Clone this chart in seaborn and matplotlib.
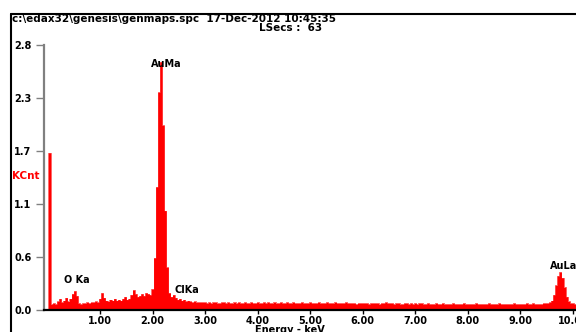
import numpy as np
import pandas as pd
import matplotlib
matplotlib.use("Agg")
import matplotlib.pyplot as plt
import seaborn as sns
from matplotlib.lines import Line2D

# spectrum, 0.04 keV per channel, counts in KCnt
channel_kev = 0.04
kcnt = [
    0.00, 1.66, 0.06, 0.07, 0.06, 0.09, 0.12, 0.08, 0.10, 0.13,
    0.09, 0.12, 0.17, 0.20, 0.15, 0.07, 0.06, 0.07, 0.07, 0.08,
    0.07, 0.08, 0.08, 0.09, 0.08, 0.12, 0.18, 0.13, 0.10, 0.09,
    0.11, 0.10, 0.12, 0.10, 0.11, 0.10, 0.12, 0.14, 0.11, 0.12,
    0.16, 0.21, 0.17, 0.14, 0.15, 0.17, 0.15, 0.18, 0.17, 0.16,
    0.22, 0.55, 1.30, 2.30, 2.62, 1.95, 1.05, 0.45, 0.18, 0.14,
    0.16, 0.13, 0.11, 0.12, 0.10, 0.11, 0.09, 0.10, 0.09, 0.08,
    0.09, 0.08, 0.08, 0.08, 0.08, 0.08, 0.07, 0.08, 0.07, 0.08,
    0.08, 0.07, 0.07, 0.08, 0.08, 0.07, 0.08, 0.07, 0.07, 0.08,
    0.07, 0.08, 0.07, 0.07, 0.08, 0.07, 0.07, 0.08, 0.07, 0.07,
    0.08, 0.07, 0.07, 0.08, 0.07, 0.08, 0.07, 0.07, 0.08, 0.07,
    0.07, 0.08, 0.07, 0.07, 0.08, 0.07, 0.07, 0.08, 0.07, 0.07,
    0.07, 0.08, 0.07, 0.07, 0.07, 0.08, 0.07, 0.07, 0.07, 0.08,
    0.07, 0.07, 0.07, 0.08, 0.07, 0.07, 0.07, 0.08, 0.07, 0.07,
    0.07, 0.07, 0.08, 0.07, 0.07, 0.07, 0.07, 0.06, 0.07, 0.07,
    0.07, 0.07, 0.07, 0.06, 0.07, 0.07, 0.07, 0.07, 0.06, 0.07,
    0.07, 0.08, 0.07, 0.07, 0.07, 0.06, 0.07, 0.07, 0.06, 0.06,
    0.07, 0.07, 0.06, 0.07, 0.06, 0.07, 0.06, 0.07, 0.07, 0.06,
    0.06, 0.07, 0.06, 0.06, 0.06, 0.07, 0.06, 0.06, 0.07, 0.06,
    0.06, 0.06, 0.06, 0.07, 0.06, 0.06, 0.06, 0.06, 0.07, 0.06,
    0.06, 0.06, 0.06, 0.06, 0.07, 0.06, 0.06, 0.06, 0.06, 0.06,
    0.07, 0.06, 0.06, 0.06, 0.06, 0.07, 0.06, 0.06, 0.06, 0.06,
    0.06, 0.06, 0.07, 0.06, 0.06, 0.06, 0.06, 0.06, 0.07, 0.06,
    0.06, 0.07, 0.06, 0.06, 0.06, 0.06, 0.07, 0.07, 0.07, 0.08,
    0.10, 0.16, 0.26, 0.36, 0.40, 0.34, 0.24, 0.14, 0.09, 0.07,
    0.07, 0.06, 0.07, 0.07, 0.06, 0.07, 0.06, 0.07, 0.07, 0.06,
    0.07, 0.06, 0.07,
]

ytick_vals = [0.0, 0.56, 1.12, 1.68, 2.24, 2.8]
ytick_labels = ["0.0", "0.6", "1.1", "1.7", "2.3", "2.8"]
xtick_vals = [1, 2, 3, 4, 5, 6, 7, 8, 9, 10]
xtick_labels = ["1.00", "2.00", "3.00", "4.00", "5.00", "6.00", "7.00", "8.00", "9.00", "10.00"]

peak_names = ["AuMa", "O Ka", "ClKa", "AuLa"]
peak_kev = [2.26, 0.55, 2.66, 9.83]
peak_lab_y = [2.60, 0.32, 0.21, 0.47]

spec = pd.DataFrame({"keV": np.arange(len(kcnt)) * channel_kev, "KCnt": kcnt})

sns.set_theme(style="white")
plt.rcParams["font.family"] = ["DejaVu Sans"]
plt.rcParams["font.weight"] = "bold"
plt.rcParams["text.color"] = "black"
plt.rcParams["xtick.labelcolor"] = "black"
plt.rcParams["ytick.labelcolor"] = "black"

fig = plt.figure(figsize=(5.76, 3.32), dpi=100)
ax = fig.add_axes([44 / 576, 22 / 332, 0.964, 265 / 332])

ax.fill_between(spec["keV"], spec["KCnt"], step="mid", color="#ff0000", lw=0)
sns.lineplot(data=spec, x="keV", y="KCnt", drawstyle="steps-mid", color="#ff0000", lw=0.4, ax=ax)

ax.set_xlim(-0.065, 10.5)
ax.set_ylim(0, 2.8)
ax.set_xlabel("")
ax.set_ylabel("")

for s in ["top", "right"]:
    ax.spines[s].set_visible(False)
ax.spines["left"].set_color("#808080")
ax.spines["left"].set_linewidth(1.6)
ax.spines["bottom"].set_color("black")
ax.spines["bottom"].set_linewidth(1.6)

ax.set_yticks(ytick_vals)
ax.set_yticklabels(ytick_labels, fontsize=7, fontweight="bold", color="black")
ax.set_xticks(xtick_vals)
ax.set_xticklabels(xtick_labels, fontsize=7, fontweight="bold", color="black")
ax.tick_params(axis="y", direction="out", length=6, width=1, color="#808080", pad=3, left=True)
ax.tick_params(axis="x", direction="out", length=3, width=1, color="black", pad=1.5, bottom=True)

for name, xk, yk in zip(peak_names, peak_kev, peak_lab_y):
    ax.text(xk, yk, name, fontsize=7, fontweight="bold", color="black", ha="center", va="center", clip_on=False)

fig.text(12 / 576, 1 - 19 / 332, "c:\\edax32\\genesis\\genmaps.spc  17-Dec-2012 10:45:35",
         fontsize=7.5, fontweight="bold", color="black", ha="left", va="center")
fig.text(322 / 576, 1 - 28 / 332, "LSecs :  63", fontsize=7.5, fontweight="bold", color="black", ha="right", va="center")
fig.text(12 / 576, 1 - 176 / 332, "KCnt", fontsize=7.5, fontweight="bold", color="#ff0000", ha="left", va="center")
fig.text(290 / 576, 1 - 330 / 332, "Energy - keV", fontsize=7, fontweight="bold", color="black", ha="center", va="center")

# outer frame (left and top edges visible)
fig.add_artist(Line2D([10.5 / 576, 10.5 / 576], [0, 1 - 13.5 / 332], color="black", lw=1.5, transform=fig.transFigure))
fig.add_artist(Line2D([10.5 / 576, 1], [1 - 13.5 / 332, 1 - 13.5 / 332], color="black", lw=1.5, transform=fig.transFigure))

fig.savefig("out.png", dpi=100, facecolor="white")
